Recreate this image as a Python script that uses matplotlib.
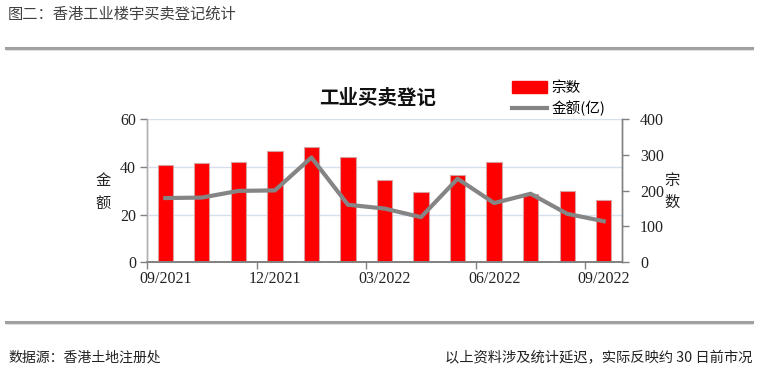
import matplotlib
matplotlib.use("Agg")
import matplotlib.pyplot as plt
from matplotlib.lines import Line2D
from matplotlib.patches import Patch

# ---- data ----
months = ["09/2021", "10/2021", "11/2021", "12/2021", "01/2022", "02/2022", "03/2022",
          "04/2022", "05/2022", "06/2022", "07/2022", "08/2022", "09/2022"]
counts = [272, 278, 281, 311, 323, 295, 229, 196, 244, 281, 191, 198, 173]   # 宗数
amounts = [26.9, 27.1, 29.9, 30.1, 43.9, 24.1, 22.5, 18.9, 35.0, 24.8, 28.7, 20.3, 17.2]  # 金额(亿)
label_months = ["09/2021", "12/2021", "03/2022", "06/2022", "09/2022"]

CJK = ["Noto Sans CJK SC", "DejaVu Sans"]
SERIF = ["Liberation Serif", "DejaVu Serif"]

W, H = 762, 373
fig = plt.figure(figsize=(W / 100, H / 100), dpi=100)

# axes position in pixels: x 147..622, y 119..262
x0, x1, y0, y1 = 147, 622, 119, 262.3
ax = fig.add_axes([x0 / W, 1 - y1 / H, (x1 - x0) / W, (y1 - y0) / H])
ax2 = ax.twinx()

xs = list(range(len(months)))

# bars on right axis (宗数)
ax2.bar(xs, counts, width=0.42, color="#FF0000", edgecolor="#d8a0a0", linewidth=0.8, zorder=2)
ax2.set_ylim(0, 400)
ax2.set_yticks([0, 100, 200, 300, 400])
for v in [20, 40, 60]:
    ax2.axhline(v * 400 / 60, color="#d6e0ec", linewidth=1.0, zorder=0)

# line on left axis (金额), drawn above the bars
ax.set_ylim(0, 60)
ax.set_yticks([0, 20, 40, 60])
ax.set_xlim(-0.5, len(months) - 0.5)
ax.set_zorder(ax2.get_zorder() + 1)
ax.patch.set_visible(False)
ax.plot(xs, amounts, color="#858585", linewidth=3.0, solid_joinstyle="round", zorder=3)

# x ticks
label_pos = [months.index(m) for m in label_months]
ax.set_xticks(label_pos)
ax.set_xticklabels(label_months, fontfamily=SERIF, fontsize=11.5, color="#222222")
ax.tick_params(axis="x", which="major", length=0, pad=6)
ax.set_xticks([p - 0.5 for p in label_pos], minor=True)
ax.tick_params(axis="x", which="minor", length=5, width=1, color="#808080", direction="out")

ax.tick_params(axis="y", length=5, width=1, color="#808080", direction="out", pad=3)
ax2.tick_params(axis="y", length=5, width=1, color="#808080", direction="out", pad=8)
for lab in ax.get_yticklabels() + ax2.get_yticklabels():
    lab.set_fontfamily(SERIF); lab.set_fontsize(11.5); lab.set_color("#222222")

for a in (ax, ax2):
    a.spines["top"].set_visible(False)
    a.spines["left"].set_color("#b0b0b0")
    a.spines["right"].set_color("#808080")
    a.spines["bottom"].set_color("#808080")
    a.spines["left"].set_linewidth(1.0)
    a.spines["right"].set_linewidth(1.0)
    a.spines["bottom"].set_linewidth(1.2)

# axis labels as stacked characters
fig.text(103 / W, 1 - 181 / H, "金", fontfamily=CJK, fontsize=11, ha="center", va="center", color="#222222")
fig.text(103 / W, 1 - 204 / H, "额", fontfamily=CJK, fontsize=11, ha="center", va="center", color="#222222")
fig.text(672 / W, 1 - 180 / H, "宗", fontfamily=CJK, fontsize=11, ha="center", va="center", color="#222222")
fig.text(672 / W, 1 - 202 / H, "数", fontfamily=CJK, fontsize=11, ha="center", va="center", color="#222222")

# chart title
fig.text(378 / W, 1 - 98 / H, "工业买卖登记", fontfamily=CJK, fontsize=14, fontweight="bold",
         ha="center", va="center", color="#111111")

# legend
handles = [Patch(facecolor="#FF0000", edgecolor="#FF0000"),
           Line2D([0], [0], color="#858585", linewidth=3)]
leg = fig.legend(handles, ["宗数", "金额(亿)"], loc="upper left",
                 bbox_to_anchor=(512 / W, 1 - 81 / H), frameon=False,
                 prop={"family": CJK, "size": 10.5}, handlelength=2.4, handleheight=0.9,
                 handletextpad=0.3, labelspacing=0.4, borderaxespad=0, borderpad=0)

# header and rules
fig.text(8 / W, 1 - 14 / H, "图二：香港工业楼宇买卖登记统计", fontfamily=CJK, fontsize=11,
         ha="left", va="center", color="#404040")
fig.add_artist(Line2D([6 / W, 752 / W], [1 - 47.5 / H, 1 - 47.5 / H], color="#a0a0a0", linewidth=2.2))
fig.add_artist(Line2D([6 / W, 752 / W], [1 - 49.5 / H, 1 - 49.5 / H], color="#e0e0e0", linewidth=0.8))
fig.add_artist(Line2D([6 / W, 752 / W], [1 - 321.5 / H, 1 - 321.5 / H], color="#a0a0a0", linewidth=2.2))
fig.add_artist(Line2D([6 / W, 752 / W], [1 - 323.5 / H, 1 - 323.5 / H], color="#e0e0e0", linewidth=0.8))

# footer
fig.text(8 / W, 1 - 358 / H, "数据源：香港土地注册处", fontfamily=CJK, fontsize=10, style="italic",
         ha="left", va="center", color="#222222")
fig.text(752 / W, 1 - 358 / H, "以上资料涉及统计延迟，实际反映约 30 日前市况", fontfamily=CJK, fontsize=10.3,
         style="italic", ha="right", va="center", color="#222222")

fig.savefig("out.png", dpi=100, facecolor="white")
